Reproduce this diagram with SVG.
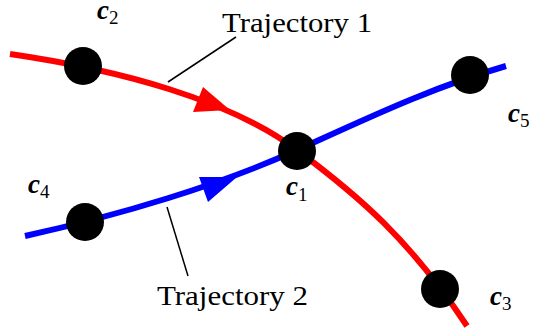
<svg xmlns="http://www.w3.org/2000/svg" width="533" height="328" viewBox="0 0 533 328">
<style>
.traj{fill:none;stroke-width:6}
.red{stroke:#ff0000}
.blue{stroke:#0000ff}
.node{fill:#000}
.lead{stroke:#000;stroke-width:1.5;fill:none}
text{font-family:"Liberation Serif","DejaVu Serif",serif;fill:#000}
.lbl{font-size:28px}
.m{font-size:27px;font-weight:bold;font-style:italic}
.s{font-size:19px}
</style>
<rect width="533" height="328" fill="#fff"/>
<g id="connectors">
<path id="trajectory1" class="traj red" d="M10,54 C120,70 230,100 297,150 C360,197 410,240 467,326"/>
<polygon class="arrowhead" fill="#ff0000" points="203,87 193,112 230,110"/>
<path id="trajectory2" class="traj blue" d="M25,236 C120,215 220,185 297,150 C370,117 430,88 506,66"/>
<polygon class="arrowhead" fill="#0000ff" points="199,177 208,202 237,177"/>
<line class="lead" x1="168" y1="82" x2="236" y2="37"/>
<line class="lead" x1="167" y1="207" x2="188" y2="276"/>
</g>
<g id="label-trajectory1"><text class="lbl" x="222" y="32" textLength="150" lengthAdjust="spacingAndGlyphs">Trajectory 1</text></g>
<g id="label-trajectory2"><text class="lbl" x="157" y="305" textLength="151" lengthAdjust="spacingAndGlyphs">Trajectory 2</text></g>
<g id="c1"><circle class="node" cx="297" cy="151" r="19"/><text x="286" y="195"><tspan class="m">c</tspan><tspan class="s" dy="6">1</tspan></text></g>
<g id="c2"><circle class="node" cx="83" cy="66" r="19"/><text x="97" y="19"><tspan class="m">c</tspan><tspan class="s" dy="5">2</tspan></text></g>
<g id="c3"><circle class="node" cx="440" cy="289" r="19"/><text x="490" y="305"><tspan class="m">c</tspan><tspan class="s" dy="5">3</tspan></text></g>
<g id="c4"><circle class="node" cx="85" cy="222" r="19"/><text x="28" y="193"><tspan class="m">c</tspan><tspan class="s" dy="5">4</tspan></text></g>
<g id="c5"><circle class="node" cx="470" cy="75" r="19"/><text x="508" y="122"><tspan class="m">c</tspan><tspan class="s" dy="5">5</tspan></text></g>
</svg>
